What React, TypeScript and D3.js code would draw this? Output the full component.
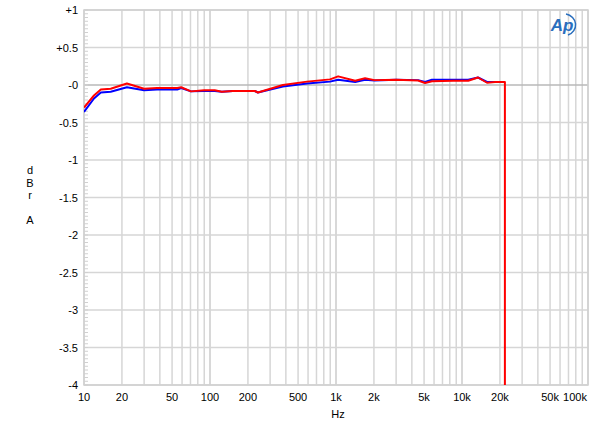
import React from "react";
import * as d3 from "d3";

const freqs = [10, 12, 13.6, 16.3, 21.9, 30, 38, 55, 59, 70.7, 90, 109, 124, 152, 227, 240, 379, 589, 896, 1040, 1420, 1700, 2020, 3000, 4480, 5090, 5770, 8500, 11200, 13400, 15800, 18300, 21100];
const redVals = [-0.30, -0.14, -0.06, -0.05, 0.02, -0.05, -0.04, -0.04, -0.03, -0.085, -0.07, -0.07, -0.09, -0.08, -0.08, -0.10, 0.0, 0.045, 0.075, 0.115, 0.057, 0.09, 0.065, 0.07, 0.06, 0.027, 0.05, 0.057, 0.057, 0.1, 0.03, 0.04, 0.04];
const blueVals = [-0.36, -0.18, -0.10, -0.09, -0.03, -0.07, -0.06, -0.06, -0.04, -0.085, -0.08, -0.08, -0.09, -0.08, -0.08, -0.10, -0.02, 0.02, 0.045, 0.07, 0.04, 0.07, 0.06, 0.07, 0.065, 0.04, 0.07, 0.07, 0.07, 0.1, 0.04, 0.04, 0.04];
const redTailFreq = [21900, 21900];
const redTailVals = [0.04, -4.2];

const yTicks = [1, 0.5, 0, -0.5, -1, -1.5, -2, -2.5, -3, -3.5, -4];
const yTickLabels = ["+1", "+0.5", "-0", "-0.5", "-1", "-1.5", "-2", "-2.5", "-3", "-3.5", "-4"];
const xTicks = [10, 20, 50, 100, 200, 500, 1000, 2000, 5000, 10000, 20000, 50000, 100000];
const xTickLabels = ["10", "20", "50", "100", "200", "500", "1k", "2k", "5k", "10k", "20k", "50k", "100k"];
const yLabelLetters = ["d", "B", "r", "", "A"];

const W = 600, H = 427;
const L = 84, R = 588, T = 10, B = 385;

export default function App() {
  const x = d3.scaleLog().domain([10, 100000]).range([L, R]);
  const y = d3.scaleLinear().domain([-4, 1]).range([B, T]);

  const gridX: number[] = [];
  for (let dec = 10; dec < 100000; dec *= 10) {
    for (let m = 1; m <= 10; m++) gridX.push(dec * m);
  }
  const minorY: number[] = [];
  for (let v = -4; v <= 1.0001; v += 0.05) minorY.push(Math.round(v * 100) / 100);

  const line = d3
    .line<[number, number]>()
    .x((d) => x(d[0]))
    .y((d) => y(Math.max(d[1], -4)));

  const redData: [number, number][] = freqs.map((f, i) => [f, redVals[i]]);
  redTailFreq.forEach((f, i) => redData.push([f, redTailVals[i]]));
  const blueData: [number, number][] = freqs.map((f, i) => [f, blueVals[i]]);

  const font = "'Liberation Sans', Arial, sans-serif";

  return (
    <svg width={W} height={H} style={{ position: "absolute", left: 0, top: 0, background: "#fff" }}>
      <rect x={0} y={0} width={W} height={H} fill="#fff" />
      {gridX.map((f, i) => (
        <line key={"gx" + i} x1={x(f)} x2={x(f)} y1={T} y2={B} stroke="#d6d6d6" strokeWidth={1.5} />
      ))}
      {yTicks.map((v, i) => (
        <line key={"gy" + i} x1={L} x2={R} y1={y(v)} y2={y(v)} stroke={v === 0 ? "#b8b8b8" : "#d6d6d6"} strokeWidth={1.5} />
      ))}
      {minorY.map((v, i) => (
        <line key={"my" + i} x1={L} x2={L + 4} y1={y(v)} y2={y(v)} stroke="#d0d0d0" strokeWidth={1} />
      ))}
      <rect x={L} y={T} width={R - L} height={B - T} fill="none" stroke="#d0d0d0" strokeWidth={1.5} />

      <defs>
        <clipPath id="plotclip">
          <rect x={L} y={T} width={R - L} height={B - T + 1} />
        </clipPath>
      </defs>
      <g clipPath="url(#plotclip)">
        <path d={line(blueData) || ""} fill="none" stroke="#0000ff" strokeWidth={2} strokeLinejoin="round" />
        <path d={line(redData) || ""} fill="none" stroke="#ff0000" strokeWidth={2} strokeLinejoin="round" />
      </g>

      {yTicks.map((v, i) => (
        <text key={"yl" + i} x={78} y={y(v) + 4} textAnchor="end" fontFamily={font} fontSize={11} fill="#000">
          {yTickLabels[i]}
        </text>
      ))}
      {xTicks.map((f, i) => (
        <text
          key={"xl" + i}
          x={i === xTicks.length - 1 ? x(f) - 13 : x(f)}
          y={401}
          textAnchor="middle"
          fontFamily={font}
          fontSize={11}
          fill="#000"
        >
          {xTickLabels[i]}
        </text>
      ))}
      <text x={338} y={418} textAnchor="middle" fontFamily={font} fontSize={11} fill="#000">Hz</text>
      {yLabelLetters.map((c, i) => (
        <text key={"yll" + i} x={30} y={174 + i * 12.5} textAnchor="middle" fontFamily={font} fontSize={11} fill="#000">
          {c}
        </text>
      ))}

      <g>
        <text x={562} y={31} textAnchor="middle" fontFamily={font} fontSize={17} fontStyle="italic" fontWeight="bold" fill="#2a6ebd">
          Ap
        </text>
        <path d="M 566 14 A 12 11 0 0 1 568 35" fill="none" stroke="#2a6ebd" strokeWidth={1.5} />
      </g>
    </svg>
  );
}
